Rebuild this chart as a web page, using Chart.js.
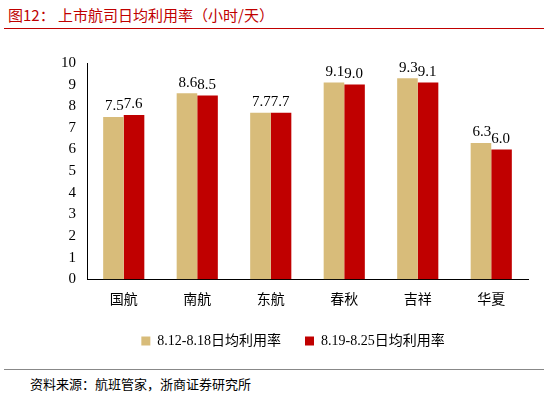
<!DOCTYPE html>
<html><head><meta charset="utf-8">
<script src="https://cdn.jsdelivr.net/npm/chart.js@4/dist/chart.umd.min.js"></script>
<style>
body{margin:0;width:548px;height:402px;background:#fff;position:relative;overflow:hidden;font-family:"Liberation Serif","Noto Sans CJK SC",serif}
#t{position:absolute;left:8px;top:4px;color:#C00000;font-size:15px;font-family:"Noto Sans CJK SC"}
#l1{position:absolute;left:4px;right:4px;top:28px;border-top:1.5px solid #C00000}
#l2{position:absolute;left:4px;right:4px;top:369px;border-top:1px solid #888}
#s{position:absolute;left:30px;top:374px;font-size:13px;font-family:"Noto Sans CJK SC"}
#c{position:absolute;left:0;top:40px}
</style></head><body>
<div id="t">图12：  上市航司日均利用率（小时/天）</div><div id="l1"></div>
<div id="c"><canvas id="cv" width="548" height="318"></canvas></div>
<div id="l2"></div><div id="s">资料来源：航班管家，浙商证券研究所</div>
<script>
const categories=["国航","南航","东航","春秋","吉祥","华夏"];
const seriesA=[7.5,8.6,7.7,9.1,9.3,6.3];
const seriesB=[7.6,8.5,7.7,9.0,9.1,6.0];
const labelsPlugin={id:'lbl',afterDatasetsDraw(ch){const c=ch.ctx;c.save();c.font='15px "Liberation Serif"';c.fillStyle='#000';c.textAlign='center';c.textBaseline='bottom';
ch.data.datasets.forEach((d,i)=>{ch.getDatasetMeta(i).data.forEach((b,j)=>{c.fillText(d.data[j].toFixed(1),b.x+(i==0?1:-1),b.y-3);});});c.restore();}};
new Chart(document.getElementById('cv'),{type:'bar',
data:{labels:categories,datasets:[
{label:'8.12-8.18日均利用率',data:seriesA,backgroundColor:'#D8BC7A'},
{label:'8.19-8.25日均利用率',data:seriesB,backgroundColor:'#C00000'}]},
options:{responsive:false,animation:false,
layout:{padding:{left:58,right:20,top:23,bottom:0}},
plugins:{legend:{position:'bottom',labels:{boxWidth:9,boxHeight:9,color:'#000',font:{size:14,family:'"Liberation Serif","Noto Sans CJK SC"'},padding:24}},tooltip:{enabled:false}},
datasets:{bar:{categoryPercentage:0.56,barPercentage:1}},
scales:{x:{grid:{display:false},border:{color:'#000'},ticks:{color:'#000',font:{size:14,family:'"Noto Sans CJK SC"'}}},
y:{min:0,max:10,ticks:{stepSize:1,color:'#000',font:{size:15,family:'"Liberation Serif"'}},grid:{display:false},border:{color:'#000'}}}}
,plugins:[labelsPlugin]});
</script></body></html>
